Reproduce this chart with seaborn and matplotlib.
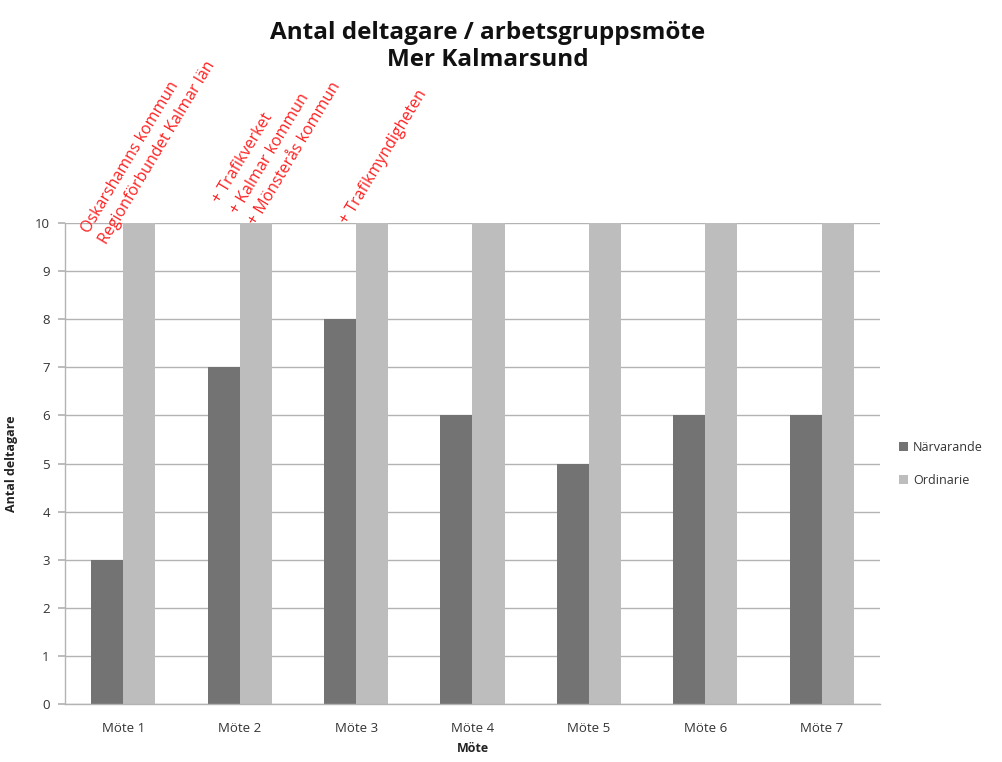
import matplotlib
matplotlib.use("Agg")
import matplotlib.pyplot as plt
import seaborn as sns
import pandas as pd

categories = ["Möte 1", "Möte 2", "Möte 3", "Möte 4", "Möte 5", "Möte 6", "Möte 7"]
narvarande = [3, 7, 8, 6, 5, 6, 6]
ordinarie = [10, 10, 10, 10, 10, 10, 10]
series_names = ["Närvarande", "Ordinarie"]
annotations = [
    (0, "Oskarshamns kommun\nRegionförbundet Kalmar län"),
    (1, "+ Trafikverket\n+ Kalmar kommun\n+ Mönsterås kommun"),
    (2, "+ Trafikmyndigheten"),
]

df = pd.DataFrame({
    "Möte": categories * 2,
    "value": narvarande + ordinarie,
    "serie": [series_names[0]] * len(categories) + [series_names[1]] * len(categories),
})

sns.set_theme(style="white")
plt.rcParams["font.family"] = ["Open Sans", "DejaVu Sans"]

fig = plt.figure(figsize=(10.02, 7.62), dpi=100)
ax = fig.add_axes([0.0649, 0.0761, 0.8133, 0.6312])

sns.barplot(data=df, x="Möte", y="value", hue="serie",
            palette=["#737373", "#bdbdbd"], width=0.55, gap=0,
            saturation=1, linewidth=0, ax=ax, legend=True)

ax.set_ylim(0, 10)
ax.set_yticks(range(0, 11))
ax.set_xlim(-0.5, 6.5)
ax.yaxis.grid(True, color="#b3b3b3", linewidth=1)
ax.set_axisbelow(True)
for s in ["top", "right"]:
    ax.spines[s].set_visible(False)
for s in ["left", "bottom"]:
    ax.spines[s].set_color("#b3b3b3")
    ax.spines[s].set_linewidth(1)
ax.tick_params(axis="y", left=True, length=5, color="#b3b3b3", labelsize=9.5, labelcolor="#333333", pad=6)
ax.tick_params(axis="x", bottom=False, labelsize=9.5, labelcolor="#333333", pad=7)
ax.set_ylabel("Antal deltagare", fontsize=9, fontweight="bold", color="#222222", labelpad=12)
ax.set_xlabel("Möte", fontsize=9, fontweight="bold", color="#222222", labelpad=5)

anchors = {0: (-0.11, 9.5), 1: (1.17, 9.9), 2: (1.96, 9.92)}
for idx, txt in annotations:
    x, y = anchors[idx]
    ax.text(x, y, txt, rotation=59, rotation_mode="anchor", ha="left", va="bottom",
            color="#ff2020", fontsize=11.5, clip_on=False, linespacing=1.4)

leg = ax.legend(loc="center left", bbox_to_anchor=(1.01, 0.5), frameon=False,
                fontsize=9, handlelength=0.7, handleheight=0.7, handletextpad=0.4,
                labelspacing=1.6)
for t in leg.get_texts():
    t.set_color("#333333")

fig.text(0.487, 0.972, "Antal deltagare / arbetsgruppsmöte\nMer Kalmarsund",
         ha="center", va="top", fontsize=17.5, fontweight="bold", color="#111111",
         linespacing=1.15)

fig.savefig("out.png", dpi=100)
